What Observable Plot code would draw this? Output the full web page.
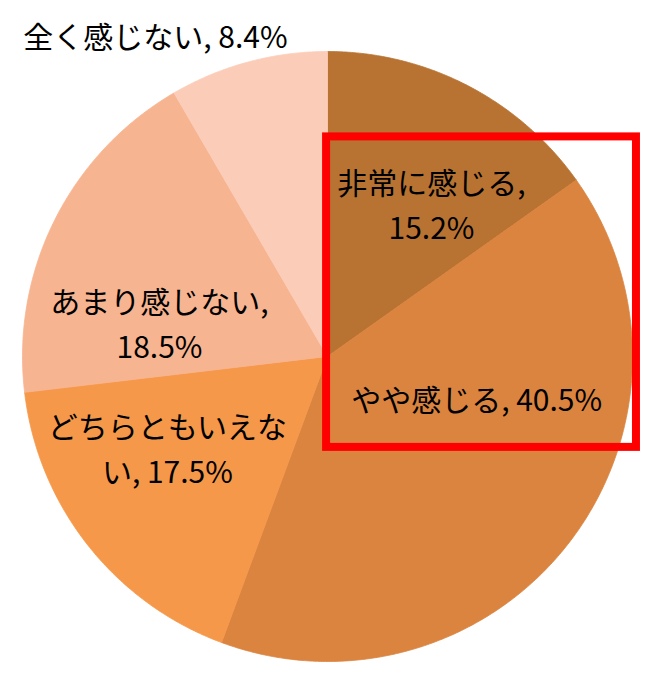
<!DOCTYPE html>
<html><head><meta charset="utf-8">
<script src="https://cdn.jsdelivr.net/npm/d3@7"></script>
<script src="https://cdn.jsdelivr.net/npm/@observablehq/plot@0.6"></script>
<style>body{margin:0;background:#fff}#chart{width:656px;height:674px}</style>
</head><body><div id="chart"></div>
<script>
// Data
const categories = ["非常に感じる", "やや感じる", "どちらともいえない", "あまり感じない", "全く感じない"];
const values = [15.2, 40.5, 17.5, 18.5, 8.4];
const colors = ["#B87333", "#DB843F", "#F5984A", "#F7B491", "#FBCDB9"];
// label text line breaks (layout)
const labelLines = ["非常に感じる,\n15.2%", "やや感じる, 40.5%", "どちらともいえな\nい, 17.5%", "あまり感じない,\n18.5%", "全く感じない, 8.4%"];
// label anchor positions in pie units (radius = 1)
const labelX = [0.341, 0.489, -0.525, -0.551, -0.564];
const labelY = [0.505, -0.132, -0.293, 0.115, 1.058];
// highlight frame (pie units)
const frame = [{x1: -0.003, x2: 1.013, y1: 0.72, y2: -0.298}];

const total = d3.sum(values);
const pts = [];
let acc = 0;
categories.forEach((c, i) => {
  const a0 = acc / total * 2 * Math.PI;
  acc += values[i];
  const a1 = acc / total * 2 * Math.PI;
  pts.push({cat: c, x: 0, y: 0});
  const n = Math.max(2, Math.ceil((a1 - a0) / (Math.PI / 360)));
  for (let k = 0; k <= n; k++) {
    const a = a0 + (a1 - a0) * k / n;
    pts.push({cat: c, x: Math.sin(a), y: Math.cos(a)});
  }
  pts.push({cat: c, x: 0, y: 0});
});
const labels = categories.map((c, i) => ({cat: c, text: labelLines[i], x: labelX[i], y: labelY[i]}));

const R = 305, cx = 327, cy = 356, W = 656, H = 674;
const chart = Plot.plot({
  width: W, height: H, margin: 0,
  x: {axis: null, domain: [-cx / R, (W - cx) / R]},
  y: {axis: null, domain: [-(H - cy) / R, cy / R]},
  color: {domain: categories, range: colors},
  style: {background: "white"},
  marks: [
    Plot.line(pts, {x: "x", y: "y", z: "cat", fill: "cat", stroke: "cat", strokeWidth: 0.8, curve: "linear"}),
    Plot.text(labels, {x: "x", y: "y", text: "text", fontSize: 30, lineHeight: 1.5, fill: "black",
      fontFamily: "'Noto Sans CJK JP', sans-serif", textAnchor: "middle"}),
    Plot.rect(frame, {x1: "x1", x2: "x2", y1: "y1", y2: "y2", fill: "none", stroke: "#FF0000", strokeWidth: 8})
  ]
});
document.getElementById("chart").appendChild(chart);
</script>
</body></html>
